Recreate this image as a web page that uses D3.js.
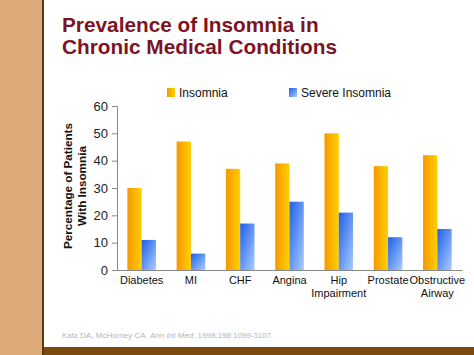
<!DOCTYPE html>
<html><head><meta charset="utf-8">
<script src="https://cdn.jsdelivr.net/npm/d3@7"></script>
<style>body{margin:0;background:#fff}svg{display:block}</style>
</head><body>
<script>
const categories = ["Diabetes", "MI", "CHF", "Angina", "Hip|Impairment", "Prostate", "Obstructive|Airway"];
const insomnia = [30, 47, 37, 39, 50, 38, 42];
const severe = [11, 6, 17, 25, 21, 12, 15];
const yTicks = [0, 10, 20, 30, 40, 50, 60];
const seriesNames = ["Insomnia", "Severe Insomnia"];

const W = 474, H = 355;
const svg = d3.select("body").append("svg").attr("width", W).attr("height", H);
const defs = svg.append("defs");
const go = defs.append("linearGradient").attr("id", "gOr").attr("x1", 0).attr("x2", 1).attr("y1", 0).attr("y2", 0);
go.append("stop").attr("offset", 0).attr("stop-color", "#f79800");
go.append("stop").attr("offset", 1).attr("stop-color", "#ffd000");
const gb = defs.append("linearGradient").attr("id", "gBl").attr("x1", 0).attr("x2", 1).attr("y1", 0).attr("y2", 1);
gb.append("stop").attr("offset", 0).attr("stop-color", "#1f5fe6");
gb.append("stop").attr("offset", 1).attr("stop-color", "#a9ccff");

// frame
svg.append("rect").attr("x", 0).attr("y", 0).attr("width", 42).attr("height", H).attr("fill", "#dcaa78");
svg.append("rect").attr("x", 42).attr("y", 0).attr("width", 2).attr("height", H).attr("fill", "#5a3a10");
svg.append("rect").attr("x", 44).attr("y", 347).attr("width", W - 44).attr("height", 8).attr("fill", "#7a4a0e");

// title
const title = svg.append("text").attr("fill", "#7d1424").attr("font-family", "Liberation Sans, Arial, sans-serif")
  .attr("font-weight", "bold").attr("font-size", 20.8);
title.append("tspan").attr("x", 62).attr("y", 32).text("Prevalence of Insomnia in");
title.append("tspan").attr("x", 62).attr("y", 54).text("Chronic Medical Conditions");

const x0 = d3.scaleBand().domain(categories).range([117, 462]).paddingInner(0.42).paddingOuter(0.21);
const x1 = d3.scaleBand().domain([0, 1]).range([0, x0.bandwidth()]);
const y = d3.scaleLinear().domain([0, 60]).range([270, 106]);

const font = "Liberation Sans, Arial, sans-serif";

// y axis
const ya = svg.append("g").attr("transform", "translate(117,0)")
  .call(d3.axisLeft(y).tickValues(yTicks).tickSize(5).tickPadding(4));
ya.select(".domain").attr("stroke", "#888");
ya.selectAll(".tick line").attr("stroke", "#888");
ya.selectAll("text").attr("font-family", font).attr("font-size", 13).attr("fill", "#222");

// x axis
const xa = svg.append("g").attr("transform", "translate(0,270)")
  .call(d3.axisBottom(x0).tickSize(0).tickPadding(6));
xa.select(".domain").attr("stroke", "#888");
xa.selectAll(".tick text").attr("font-family", font).attr("font-size", 11).attr("fill", "#111")
  .each(function(d) {
    const t = d3.select(this); t.text(null);
    d.split("|").forEach((s, i) => t.append("tspan").attr("x", 0).attr("dy", i ? "1.2em" : "0.71em").text(s));
  });

// bars
const g = svg.append("g");
categories.forEach((c, i) => {
  g.append("rect").attr("x", x0(c) + x1(0)).attr("width", x1.bandwidth())
    .attr("y", y(insomnia[i])).attr("height", y(0) - y(insomnia[i])).attr("fill", "url(#gOr)");
  g.append("rect").attr("x", x0(c) + x1(1)).attr("width", x1.bandwidth())
    .attr("y", y(severe[i])).attr("height", y(0) - y(severe[i])).attr("fill", "url(#gBl)");
});

// y title
const yt = svg.append("text").attr("transform", "translate(0,186) rotate(-90)")
  .attr("text-anchor", "middle").attr("font-family", font).attr("font-weight", "bold").attr("font-size", 11.7).attr("fill", "#111");
yt.append("tspan").attr("x", 0).attr("y", 72).text("Percentage of Patients");
yt.append("tspan").attr("x", 0).attr("y", 86).text("With Insomnia");

// legend
const legX = [167, 289], fills = ["url(#gOr)", "url(#gBl)"];
seriesNames.forEach((s, i) => {
  svg.append("rect").attr("x", legX[i]).attr("y", 88).attr("width", 8).attr("height", 9).attr("fill", fills[i]);
  svg.append("text").attr("x", legX[i] + 12).attr("y", 97).attr("font-family", font).attr("font-size", 12)
    .attr("fill", "#111").text(s);
});

// citation
const cit = svg.append("text").attr("x", 62).attr("y", 338).attr("font-family", font).attr("font-size", 8).attr("fill", "#b5b5b5");
cit.append("tspan").text("Katz DA, McHorney CA. ");
cit.append("tspan").attr("font-style", "italic").text("Ann Int Med");
cit.append("tspan").text(". 1998;198:1099-1107.");
</script>
</body></html>
